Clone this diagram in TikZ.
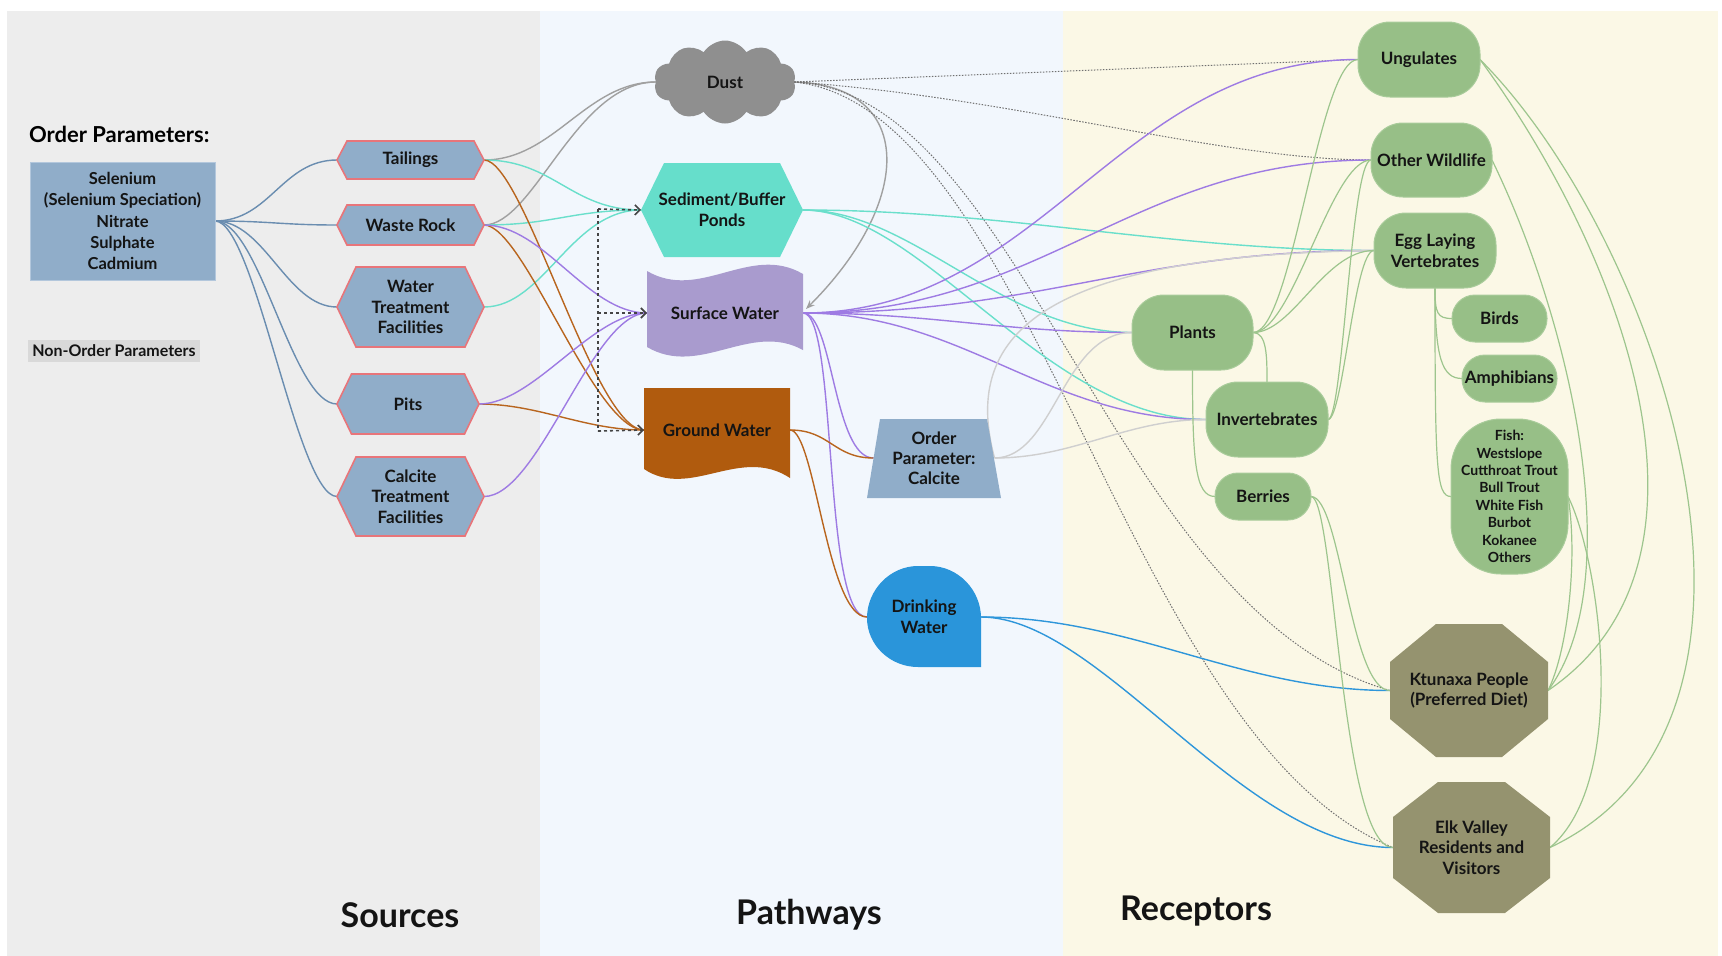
\documentclass[tikz,border=0pt]{standalone}
\usepackage{fontspec}
\setmainfont{Lato}
\usetikzlibrary{shapes.symbols,arrows.meta,calc}
\definecolor{srcbg}{HTML}{EDEDED}
\definecolor{pathbg}{HTML}{F2F7FD}
\definecolor{recbg}{HTML}{FBF8E6}
\definecolor{pbfill}{HTML}{90ADC9}
\definecolor{pbdraw}{HTML}{B3C7DC}
\definecolor{srcred}{HTML}{E8757A}
\definecolor{dustc}{HTML}{8F8F8F}
\definecolor{sedc}{HTML}{66DECB}
\definecolor{swc}{HTML}{A99BCE}
\definecolor{gwc}{HTML}{B05B0E}
\definecolor{dwc}{HTML}{2A95DA}
\definecolor{recc}{HTML}{97BF87}
\definecolor{recd}{HTML}{A9CC9B}
\definecolor{octc}{HTML}{95936F}
\definecolor{txtc}{HTML}{141414}
\definecolor{nopc}{HTML}{D9D9D9}
\definecolor{lparam}{HTML}{6A8DB0}
\definecolor{lgrey}{HTML}{A0A0A0}
\definecolor{lturq}{HTML}{6ADFCB}
\definecolor{lbrown}{HTML}{B8651E}
\definecolor{lpurp}{HTML}{9E7BE3}
\definecolor{llgrey}{HTML}{CFCFCF}
\definecolor{lblue}{HTML}{2E96DA}
\definecolor{lgreen}{HTML}{9DC58D}
\definecolor{ldot}{HTML}{707070}
\definecolor{ldash}{HTML}{444444}
\pgfdeclarelayer{bg}
\pgfdeclarelayer{edges}
\pgfdeclarelayer{shp}
\pgfsetlayers{bg,edges,shp,main}
\newcommand\hexshape[3]{%
  \path[#3] (#1.west) -- ($(#1.north west)+(#2,0)$) -- ($(#1.north east)+(-#2,0)$) -- (#1.east)
    -- ($(#1.south east)+(-#2,0)$) -- ($(#1.south west)+(#2,0)$) -- cycle;}
\newcommand\octshape[4]{%
  \path[#4] ($(#1.north west)+(#2,0)$) -- ($(#1.north east)+(-#2,0)$) -- ($(#1.north east)+(0,#3)$)
    -- ($(#1.south east)+(0,-#3)$) -- ($(#1.south east)+(-#2,0)$) -- ($(#1.south west)+(#2,0)$)
    -- ($(#1.south west)+(0,-#3)$) -- ($(#1.north west)+(0,#3)$) -- cycle;}
\tikzset{
  base/.style={text=txtc, font=\fontsize{17}{20.7}\selectfont\bfseries, align=center, inner sep=0pt, outer sep=0pt},
  txt/.style={base, draw=none},
  pbox/.style={base, fill=pbfill, draw=pbdraw, line width=1pt, minimum width=185pt, minimum height=118pt, font=\fontsize{16.5}{21.2}\selectfont\bfseries},
  nopbox/.style={base, fill=nopc, minimum width=172pt, minimum height=22pt, font=\fontsize{16}{18}\selectfont\bfseries},
  titletxt/.style={base, font=\fontsize{22}{26}\selectfont\bfseries, text=black},
  secttxt/.style={base, font=\fontsize{34}{40}\selectfont\bfseries, text=txtc},
  rec/.style={base, fill=recc, draw=recd, line width=1pt, rounded corners=32pt},
  recs/.style={base, fill=recc, draw=recd, line width=1pt, rounded corners=23pt},
  hexfill/.style={fill=pbfill, draw=srcred, line width=1.6pt},
  e/.style={line width=1.4pt},
  ep/.style={e, draw=lparam},
  eg/.style={e, draw=lgrey},
  et/.style={e, draw=lturq},
  eb/.style={e, draw=lbrown},
  eu/.style={e, draw=lpurp},
  el/.style={e, draw=llgrey},
  ebl/.style={e, draw=lblue},
  egr/.style={line width=1.2pt, draw=lgreen},
  edot/.style={line width=1pt, draw=ldot, dash pattern=on 1.5pt off 1.5pt},
  edash/.style={line width=1.6pt, draw=ldash, dash pattern=on 3pt off 3pt},
  dasharrow/.style={edash, -{Straight Barb[length=5pt,width=10pt]}}
}
\begin{document}
\begin{tikzpicture}[x=1pt,y=-1pt]
\useasboundingbox (0,0) rectangle (1722,956);
\begin{pgfonlayer}{bg}
\fill[white] (0,0) rectangle (1722,956);
\fill[srcbg] (7,11) rectangle (540,956);
\fill[pathbg] (540,11) rectangle (1063,956);
\fill[recbg] (1063,11) rectangle (1718,956);
\end{pgfonlayer}

% ---------- Sources column
\node[titletxt, anchor=west] (opt) at (29,134) {Order Parameters:};
\node[pbox] (pb) at (122.5,221) {Selenium\\(Selenium Speciation)\\Nitrate\\Sulphate\\Cadmium};
\node[nopbox] (nop) at (114,350.5) {Non-Order Parameters};

\node[txt, minimum width=147pt, minimum height=38pt] (tal) at (410.5,160) {Tailings};
\node[txt, minimum width=147pt, minimum height=40pt] (wr) at (410.5,225) {Waste Rock};
\node[txt, minimum width=147pt, minimum height=80pt] (wtf) at (410.5,307) {Water\\Treatment\\Facilities};
\node[txt, minimum width=142pt, minimum height=60pt] (pits) at (408,404) {Pits};
\node[txt, minimum width=147pt, minimum height=79pt] (ctf) at (410.5,496.5) {Calcite\\Treatment\\Facilities};

% ---------- Pathways column
\node[cloud, cloud puffs=10, cloud puff arc=115, aspect=1.7, fill=dustc, draw=none, minimum width=142pt, minimum height=83pt, base] (dust) at (725,82) {Dust};
\node[txt, minimum width=162pt, minimum height=94pt] (sed) at (722,210) {Sediment/Buffer\\Ponds};
\node[txt, minimum width=156pt, minimum height=76pt] (sw) at (725,313) {Surface Water};
\node[txt, minimum width=146pt, minimum height=20pt] (gw) at (717,430) {Ground Water};
\node[txt, minimum width=121pt, minimum height=79pt, font=\fontsize{17}{20}\selectfont\bfseries] (opc) at (934,458) {Order\\Parameter:\\Calcite};
\node[txt, minimum width=114pt, minimum height=101pt] (dw) at (924,617) {Drinking\\Water};
\coordinate (swin) at (806,309);

% ---------- Receptors column
\node[rec, minimum width=122pt, minimum height=75pt] (ung) at (1419,59.5) {Ungulates};
\node[rec, minimum width=121pt, minimum height=74pt] (ow) at (1431.5,160) {Other Wildlife};
\node[rec, minimum width=122pt, minimum height=75pt] (egg) at (1435,250.5) {Egg Laying\\Vertebrates};
\node[rec, minimum width=121pt, minimum height=75pt] (pl) at (1192.5,332.5) {Plants};
\node[recs, minimum width=95pt, minimum height=47pt] (bir) at (1499.5,318.5) {Birds};
\node[recs, minimum width=95pt, minimum height=47pt] (amp) at (1509.5,378.5) {Amphibians};
\node[rec, rounded corners=50pt, minimum width=117pt, minimum height=155pt, font=\fontsize{14}{17.4}\selectfont\bfseries] (fish) at (1509.5,496.5) {Fish:\\Westslope\\Cutthroat Trout\\Bull Trout\\White Fish\\Burbot\\Kokanee\\Others};
\node[rec, minimum width=122pt, minimum height=75pt] (inv) at (1267,419.5) {Invertebrates};
\node[recs, minimum width=96pt, minimum height=47pt] (ber) at (1263,496.5) {Berries};
\node[txt, minimum width=158pt, minimum height=133pt] (kt) at (1469,690.5) {Ktunaxa People\\(Preferred Diet)};
\node[txt, minimum width=157pt, minimum height=131pt] (elk) at (1471.5,847.5) {Elk Valley\\Residents and\\Visitors};

% ---------- Section titles
\node[secttxt] (s1) at (400,915) {Sources};
\node[secttxt] (s2) at (809,915) {Pathways};
\node[secttxt] (s3) at (1196,911) {Receptors};

% ---------- custom shapes
\begin{pgfonlayer}{shp}
\hexshape{tal}{10}{hexfill}
\hexshape{wr}{10}{hexfill}
\hexshape{wtf}{19}{hexfill}
\hexshape{pits}{14.5}{hexfill}
\hexshape{ctf}{19}{hexfill}
\hexshape{sed}{23}{fill=sedc}
\fill[swc] (647,271) .. controls (700,302) and (750,243) .. (803,274) -- (803,350)
   .. controls (750,321) and (700,378) .. (647,347) -- cycle;
\fill[gwc] (644,388) -- (790,388) -- (790,478) .. controls (740,445) and (690,500) .. (644,469) -- cycle;
\fill[pbfill] (867,498) -- (880,419) -- (987,419) -- (1001,498) -- cycle;
\fill[dwc] (981,667) -- (981,618) .. controls (981,590) and (958,566) .. (930,566) -- (918,566)
   .. controls (890,566) and (867,590) .. (867,618) .. controls (867,645) and (890,667) .. (918,667) -- cycle;
\octshape{kt}{46}{38}{fill=octc}
\octshape{elk}{45}{35}{fill=octc}
\end{pgfonlayer}

% ---------- connectors
\begin{pgfonlayer}{edges}
% parameters -> sources
\draw[ep] (pb.east) .. controls +(55,0) and +(-55,0) .. (tal.west);
\draw[ep] (pb.east) .. controls +(55,0) and +(-55,0) .. (wr.west);
\draw[ep] (pb.east) .. controls +(50,0) and +(-50,0) .. (wtf.west);
\draw[ep] (pb.east) .. controls +(45,0) and +(-45,0) .. (pits.west);
\draw[ep] (pb.east) .. controls +(40,0) and +(-40,0) .. (ctf.west);
% sources -> pathways
\draw[eg] (tal.east) .. controls +(70,0) and +(-70,0) .. (dust.west);
\draw[eg] (wr.east) .. controls +(50,0) and +(-80,0) .. (dust.west);
\draw[et] (tal.east) .. controls +(70,0) and +(-70,0) .. (sed.west);
\draw[et] (wr.east) .. controls +(70,0) and +(-70,0) .. (sed.west);
\draw[et] (wtf.east) .. controls +(60,0) and +(-70,0) .. (sed.west);
\draw[eb] (tal.east) .. controls +(40,0) and +(-50,0) .. (gw.west);
\draw[eb] (wr.east) .. controls +(40,0) and +(-50,0) .. (gw.west);
\draw[eb] (pits.east) .. controls +(60,0) and +(-60,0) .. (gw.west);
\draw[eu] (wr.east) .. controls +(60,0) and +(-60,0) .. (sw.west);
\draw[eu] (pits.east) .. controls +(55,0) and +(-55,0) .. (sw.west);
\draw[eu] (ctf.east) .. controls +(55,0) and +(-55,0) .. (sw.west);
% dashed bracket
\coordinate (db1) at (598,209);
\coordinate (db2) at (598,313);
\coordinate (db3) at (598,431);
\draw[edash] (db1) -- (db3);
\draw[dasharrow] (db1) -- (sed.west);
\draw[dasharrow] (db2) -- (sw.west);
\draw[dasharrow] (db3) -- (gw.west);
% dust
\draw[eg, -{Stealth[length=9pt,width=7pt]}] (dust.east) .. controls (915,85) and (915,200) .. (swin);
\draw[edot] (dust.east) -- (ung.west);
\draw[edot] (dust.east) .. controls +(220,15) and +(-150,0) .. (ow.west);
\draw[edot] (dust.east) .. controls +(230,10) and +(-280,-80) .. (kt.west);
\draw[edot] (dust.east) .. controls +(240,25) and +(-270,-110) .. (elk.west);
% sediment
\draw[et] (sed.east) .. controls +(200,0) and +(-200,0) .. (egg.west);
\draw[et] (sed.east) .. controls +(110,0) and +(-130,0) .. (pl.west);
\draw[et] (sed.east) .. controls +(120,0) and +(-160,0) .. (inv.west);
% surface water
\draw[eu] (sw.east) .. controls +(240,0) and +(-240,0) .. (ung.west);
\draw[eu] (sw.east) .. controls +(240,0) and +(-240,0) .. (ow.west);
\draw[eu] (sw.east) .. controls +(240,0) and +(-240,0) .. (egg.west);
\draw[eu] (sw.east) .. controls +(130,0) and +(-130,0) .. (pl.west);
\draw[eu] (sw.east) .. controls +(160,0) and +(-160,0) .. (inv.west);
\draw[eu] (sw.east) .. controls +(30,0) and +(-40,0) .. (opc.west);
\draw[eu] (sw.east) .. controls +(35,0) and +(-45,0) .. (dw.west);
% ground water
\draw[eb] (gw.east) .. controls +(40,0) and +(-40,0) .. (opc.west);
\draw[eb] (gw.east) .. controls +(25,0) and +(-40,0) .. (dw.west);
% calcite
\draw[el] (opc.east) .. controls +(60,0) and +(-70,0) .. (pl.west);
\draw[el] (opc.east) .. controls +(80,0) and +(-80,0) .. (inv.west);
\draw[el] (opc.east) .. controls (960,330) and (1050,255) .. (egg.west);
% drinking water
\draw[ebl] (dw.east) .. controls +(150,0) and +(-150,0) .. (kt.west);
\draw[ebl] (dw.east) .. controls +(120,0) and +(-150,0) .. (elk.west);
% receptors
\draw[egr] (pl.east) .. controls +(40,0) and +(-40,0) .. (ung.west);
\draw[egr] (pl.east) .. controls +(40,0) and +(-40,0) .. (ow.west);
\draw[egr] (pl.east) .. controls +(40,0) and +(-50,0) .. (egg.west);
\draw[egr] (pl.east) .. controls +(14,0) and +(0,-25) .. (inv.north);
\draw[egr] (pl.south) .. controls +(0,90) and +(-20,0) .. (ber.west);
\draw[egr] (inv.east) .. controls +(15,0) and +(-20,0) .. (ow.west);
\draw[egr] (inv.east) .. controls +(15,0) and +(-20,0) .. (egg.west);
\draw[egr] (egg.south) .. controls +(0,25) and +(-15,0) .. (bir.west);
\draw[egr] (egg.south) .. controls +(0,70) and +(-20,0) .. (amp.west);
\draw[egr] (egg.south) .. controls +(0,180) and +(-15,0) .. (fish.west);
\draw[egr] (ung.east) .. controls (1620,250) and (1740,560) .. (kt.east);
\draw[egr] (ung.east) .. controls (1660,240) and (1820,720) .. (elk.east);
\draw[egr] (ow.east) .. controls (1570,320) and (1630,580) .. (kt.east);
\draw[egr] (fish.east) .. controls +(10,60) and +(20,-40) .. (kt.east);
\draw[egr] (fish.east) .. controls (1600,560) and (1630,780) .. (elk.east);
\draw[egr] (ber.east) .. controls +(30,0) and +(-40,0) .. (kt.west);
\draw[egr] (ber.east) .. controls +(24,0) and +(-53,0) .. (elk.west);
\end{pgfonlayer}
\end{tikzpicture}
\end{document}
